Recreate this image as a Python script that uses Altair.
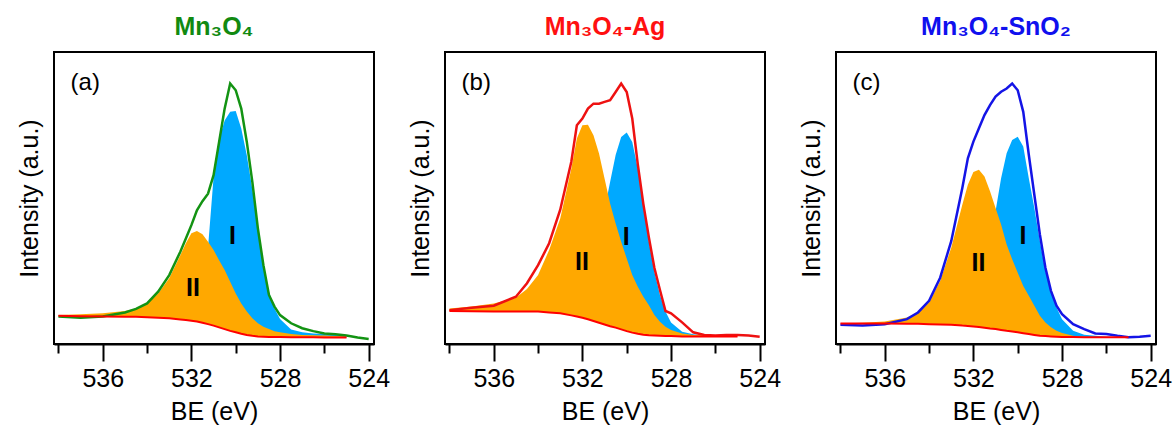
import altair as alt
import pandas as pd

FONT = "Liberation Sans"

# Binding energy grid (eV)
BE = [538, 537, 536, 535, 534.5, 534, 533.5, 533, 532.5, 532.25, 532, 531.75,
      531.5, 531.25, 531, 530.75, 530.5, 530.25, 530, 529.75, 529.5, 529.25,
      529, 528.75, 528.5, 528.25, 528, 527.5, 527, 526.5, 526, 525.5, 525,
      524.5, 524]

# Panel (a) Mn3O4
MEAS_A = [9.4, 9.0, 9.4, 10.8, 12.0, 13.9, 17.9, 23.6, 31.6, 36.1, 40.7, 45.8,
          48.9, 51.5, 57.8, 69.2, 80.6, 89.2, 86.9, 80.6, 69.2, 55.5,
          39.6, 27.0, 16.8, 12.8, 9.9, 7.1, 5.4, 4.4, 3.6, 3.3, 2.9, 2.2, 1.7]
BG_A = [9.7, 9.5, 9.4, 9.3, 9.3, 9.2, 9.0, 8.8, 8.4, 8.2, 8.0, 7.7,
        7.3, 6.8, 6.3, 5.7, 5.1, 4.5, 4.0, 3.5, 3.1, 2.8,
        2.6, 2.5, 2.4, 2.4, 2.4, 2.3, 2.3, 2.3, 2.2, 2.2, 2.2, None, None]
PEAK2_A = [9.9, 10.2, 10.5, 11.3, 12.2, 13.9, 17.3, 22.5, 30.4, 34.5, 37.9, 38.7,
           37.6, 35.0, 32.2, 28.7, 25.3, 21.3, 17.3, 13.9, 11.1, 8.8,
           7.1, 5.9, 5.1, 4.4, 4.0, 3.4, 3.1, 3.0, 2.9, 2.7, 2.6, None, None]
PEAK1_A = [9.7, 9.5, 9.4, 9.3, 9.3, 9.2, 9.0, 8.8, 9.0, 9.5, 12.0, 16.0,
           22.0, 33.0, 57.0, 70.0, 76.5, 79.5, 79.8, 73.8, 64.6, 53.0,
           39.6, 27.0, 17.9, 12.2, 8.6, 5.0, 4.0, 3.6, 3.4, 3.2, 3.1, None, None]

# Panel (b) Mn3O4-Ag
MEAS_B = [11.6, 12.4, 13.1, 16.2, 20.8, 27.0, 34.5, 46.0, 62.4, 74.9, 77.2, 80.6,
          82.3, 82.3, 82.9, 83.5, 86.3, 89.2, 86.3, 77.2, 61.5, 48.0,
          36.5, 26.0, 18.5, 11.3, 10.5, 7.4, 4.0, 3.1, 2.9, 3.1, 3.1, 2.9, 2.5]
BG_B = [11.3, 11.2, 11.1, 11.1, 11.1, 11.1, 10.8, 10.5, 9.8, 9.4, 9.0, 8.5,
        7.9, 7.3, 6.7, 6.1, 5.6, 5.0, 4.4, 3.9, 3.5, 3.2,
        3.0, 2.9, 2.8, 2.7, 2.7, 2.6, 2.6, 2.6, 2.6, 2.6, 2.6, None, None]
PEAK2_B = [12.2, 12.8, 13.9, 15.8, 18.8, 23.6, 32.2, 43.0, 60.0, 70.4, 74.9, 75.1,
           71.5, 65.2, 56.7, 48.1, 41.3, 35.0, 29.3, 23.6, 19.6, 16.2,
           13.3, 9.9, 7.6, 5.9, 4.8, 3.6, 3.1, 3.0, 2.9, 2.8, 2.7, None, None]
PEAK1_B = [11.3, 11.2, 11.1, 11.1, 11.1, 11.1, 10.8, 10.5, 9.8, 9.4, 10.0, 13.0,
           18.0, 30.0, 46.0, 55.5, 64.7, 70.9, 72.4, 69.2, 60.1, 47.5,
           35.0, 24.7, 16.8, 11.1, 7.4, 4.2, 3.3, 2.9, 2.7, 2.6, 2.6, None, None]

# Panel (c) Mn3O4-SnO2
MEAS_C = [6.6, 6.3, 6.8, 8.5, 10.8, 14.8, 22.7, 35.2, 53.4, 63.6, 69.3, 73.9,
          78.4, 81.8, 84.7, 86.4, 87.5, 89.2, 86.9, 79.5, 64.8, 51.1,
          37.5, 26.1, 18.2, 13.1, 10.2, 6.8, 5.1, 3.6, 3.4, 2.8, 2.3, 2.5, 2.8]
BG_C = [7.0, 7.0, 7.0, 6.9, 6.9, 6.8, 6.7, 6.6, 6.3, 6.2, 6.0, 5.8,
        5.6, 5.3, 5.1, 4.8, 4.5, 4.3, 4.0, 3.7, 3.4, 3.1,
        2.8, 2.7, 2.6, 2.5, 2.4, 2.4, 2.3, 2.3, 2.3, 2.3, 2.3, None, None]
PEAK2_C = [7.0, 7.3, 7.7, 9.1, 10.8, 14.2, 21.6, 33.0, 47.7, 54.5, 58.9, 59.7,
           57.4, 52.3, 46.6, 40.9, 34.1, 29.0, 24.4, 19.9, 16.5, 13.1,
           9.7, 7.4, 5.7, 4.5, 3.8, 2.8, 2.5, 2.4, 2.3, 2.3, 2.3, None, None]
PEAK1_C = [7.0, 7.0, 7.0, 6.9, 6.9, 6.8, 6.7, 6.6, 6.3, 6.2, 8.0, 11.0,
           20.0, 30.0, 45.5, 56.8, 65.3, 69.9, 71.0, 67.6, 56.8, 46.6,
           35.2, 25.0, 18.2, 12.5, 8.5, 4.5, 3.2, 2.8, 2.5, 2.4, 2.3, None, None]

TITLES = [["Mn₃O₄"], ["Mn₃O₄-Ag"], ["Mn₃O₄-SnO₂"]]
LINE_COLORS = ["#139313", "#ee1111", "#1414e6"]
TITLE_COLORS = ["#118a11", "#ff1010", "#1010ee"]
TAGS = ["(a)", "(b)", "(c)"]
PEAK_NAMES = ["I", "II"]
LABEL_BE = [[530.15, 531.93], [530.02, 532.02], [529.76, 531.77]]
LABEL_Y = [[37.0, 19.2], [36.7, 28.2], [36.9, 27.8]]
TAG_BE = 537.45
TAG_Y = 89.5

MAJOR_TICKS = [536, 532, 528, 524]
ALL_TICKS = [538 - 0.5 * i for i in range(29)]

ORANGE = "#ffa800"
SKY = "#00a9ff"
BG_RED = "#ff0000"

x_scale = alt.Scale(domain=[523.76, 538.2], reverse=True, nice=False, zero=False)
y_scale = alt.Scale(domain=[0, 100], nice=False, zero=False)

x_axis = alt.Axis(
    values=ALL_TICKS,
    labelExpr="datum.value % 4 === 0 ? datum.label : ''",
    tickSize={"condition": {"test": "datum.value % 4 === 0", "value": 17}, "value": 9},
    tickWidth=2, tickColor="black", domainColor="black", domainWidth=2,
    labelFontSize=25, labelColor="black", labelPadding=5, labelFlush=False,
    labelOverlap=False, grid=False,
    title="BE (eV)", titleFontSize=25, titleFontWeight="normal", titleColor="black",
    titlePadding=8,
)
y_axis = alt.Axis(
    title="Intensity (a.u.)", labels=False, ticks=False, domain=False, grid=False,
    titleFontSize=25, titleFontWeight="normal", titleColor="black", titlePadding=12,
)


def panel(i, meas, bg, p2, p1):
    df = pd.DataFrame({"BE": BE, "meas": meas, "bg": bg, "p2": p2, "p1": p1})
    base = alt.Chart(df)
    x = alt.X("BE:Q", scale=x_scale, axis=x_axis)
    blue = base.mark_area(color=SKY).encode(
        x=x, y=alt.Y("p1:Q", scale=y_scale, axis=y_axis), y2="bg:Q")
    orange = base.mark_area(color=ORANGE).encode(
        x=x, y=alt.Y("p2:Q", scale=y_scale), y2="bg:Q")
    meas_line = base.mark_line(color=LINE_COLORS[i], strokeWidth=2.5).encode(
        x=x, y=alt.Y("meas:Q", scale=y_scale))
    bg_line = base.mark_line(color=BG_RED, strokeWidth=2).encode(
        x=x, y=alt.Y("bg:Q", scale=y_scale))
    lab = pd.DataFrame({"BE": LABEL_BE[i], "v": LABEL_Y[i], "t": PEAK_NAMES})
    peak_text = alt.Chart(lab).mark_text(
        font=FONT, fontSize=25, fontWeight="bold", color="black",
        align="center", baseline="middle").encode(
        x=alt.X("BE:Q", scale=x_scale), y=alt.Y("v:Q", scale=y_scale), text="t:N")
    tag = pd.DataFrame({"BE": [TAG_BE], "v": [TAG_Y], "t": [TAGS[i]]})
    tag_text = alt.Chart(tag).mark_text(
        font=FONT, fontSize=24, color="black", align="left", baseline="middle").encode(
        x=alt.X("BE:Q", scale=x_scale), y=alt.Y("v:Q", scale=y_scale), text="t:N")
    return alt.layer(blue, orange, meas_line, bg_line, peak_text, tag_text).properties(
        width=320, height=292,
        title=alt.TitleParams(
            text=TITLES[i], color=TITLE_COLORS[i], fontSize=25, fontWeight="bold",
            font=FONT, anchor="middle", frame="group", baseline="alphabetic", offset=-8),
    )


chart = alt.hconcat(
    panel(0, MEAS_A, BG_A, PEAK2_A, PEAK1_A),
    panel(1, MEAS_B, BG_B, PEAK2_B, PEAK1_B),
    panel(2, MEAS_C, BG_C, PEAK2_C, PEAK1_C),
    spacing=71, bounds="flush",
).properties(
    padding={"left": 16, "top": 14, "right": 2, "bottom": 0},
    background="white",
).configure_view(
    stroke="black", strokeWidth=2,
).configure_axis(
    labelFont=FONT, titleFont=FONT,
).configure_title(font=FONT)

chart.save("out.html", embed_options={"renderer": "svg", "actions": False})
